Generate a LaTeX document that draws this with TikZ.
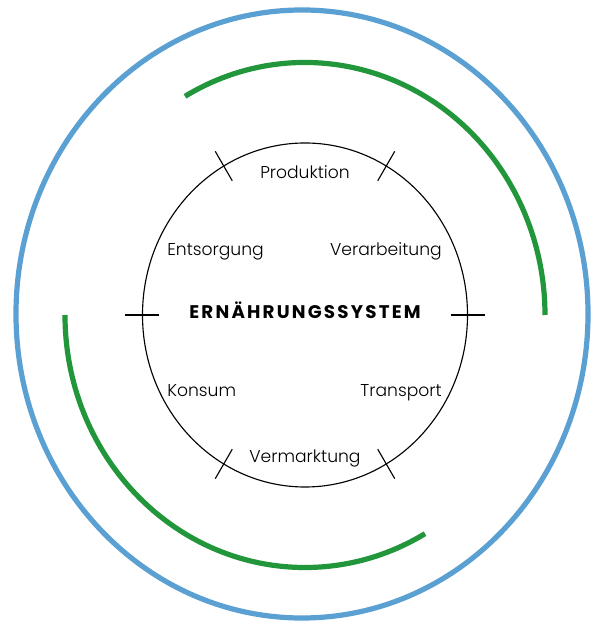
\documentclass[tikz,border=0pt]{standalone}
\usepackage{fontspec}
\newfontfamily\stagefont{Poppins Light}
\newfontfamily\systemfont{Poppins Bold}[LetterSpace=12]
\usetikzlibrary{positioning}

\definecolor{outerblue}{RGB}{91,160,210}
\definecolor{cyclegreen}{RGB}{34,150,58}

\begin{document}
\begin{tikzpicture}[
		x=0.025cm, y=0.025cm,
		every node/.style={inner sep=0pt},
		stage/.style={font=\stagefont\fontsize{12.2}{14}\selectfont},
		system/.style={font=\systemfont\fontsize{13}{15}\selectfont},
		outer/.style={draw=outerblue, line width=0.13cm},
		cycle/.style={draw=cyclegreen, line width=0.13cm},
		inner/.style={draw=black, line width=0.8pt}
		]
		\useasboundingbox (-305,-307) rectangle (285,315);
		
		% Rings
		\draw[outer] (-3,1) ellipse [x radius=286, y radius=304];
		\draw[cycle] (120:240 and 252.5) arc [start angle=120, end angle=0, x radius=240, y radius=252.5];
		\draw[cycle] (180:240 and 252.5) arc [start angle=180, end angle=300, x radius=240, y radius=252.5];
		\draw[inner] (0,0) ellipse [x radius=162.5, y radius=172];
		
		% Stage boundaries
		\foreach \a in {0,60,...,300}
			\draw[inner] ({145.5*cos(\a)},{155*sin(\a)}) -- ({179.5*cos(\a)},{189*sin(\a)});
		
		% Stages
		\node[system, anchor=base] at (0,-4) (system) {ERNÄHRUNGSSYSTEM};
		\node[stage, anchor=base] at (0,136) (produktion) {Produktion};
		\node[stage, anchor=base east] at (137,59) (verarbeitung) {Verarbeitung};
		\node[stage, anchor=base east] at (137,-82) (transport) {Transport};
		\node[stage, anchor=base] at (0,-147) (vermarktung) {Vermarktung};
		\node[stage, anchor=base west] at (-138,-82) (konsum) {Konsum};
		\node[stage, anchor=base west] at (-138,59) (entsorgung) {Entsorgung};
		
	\end{tikzpicture}
\end{document}
